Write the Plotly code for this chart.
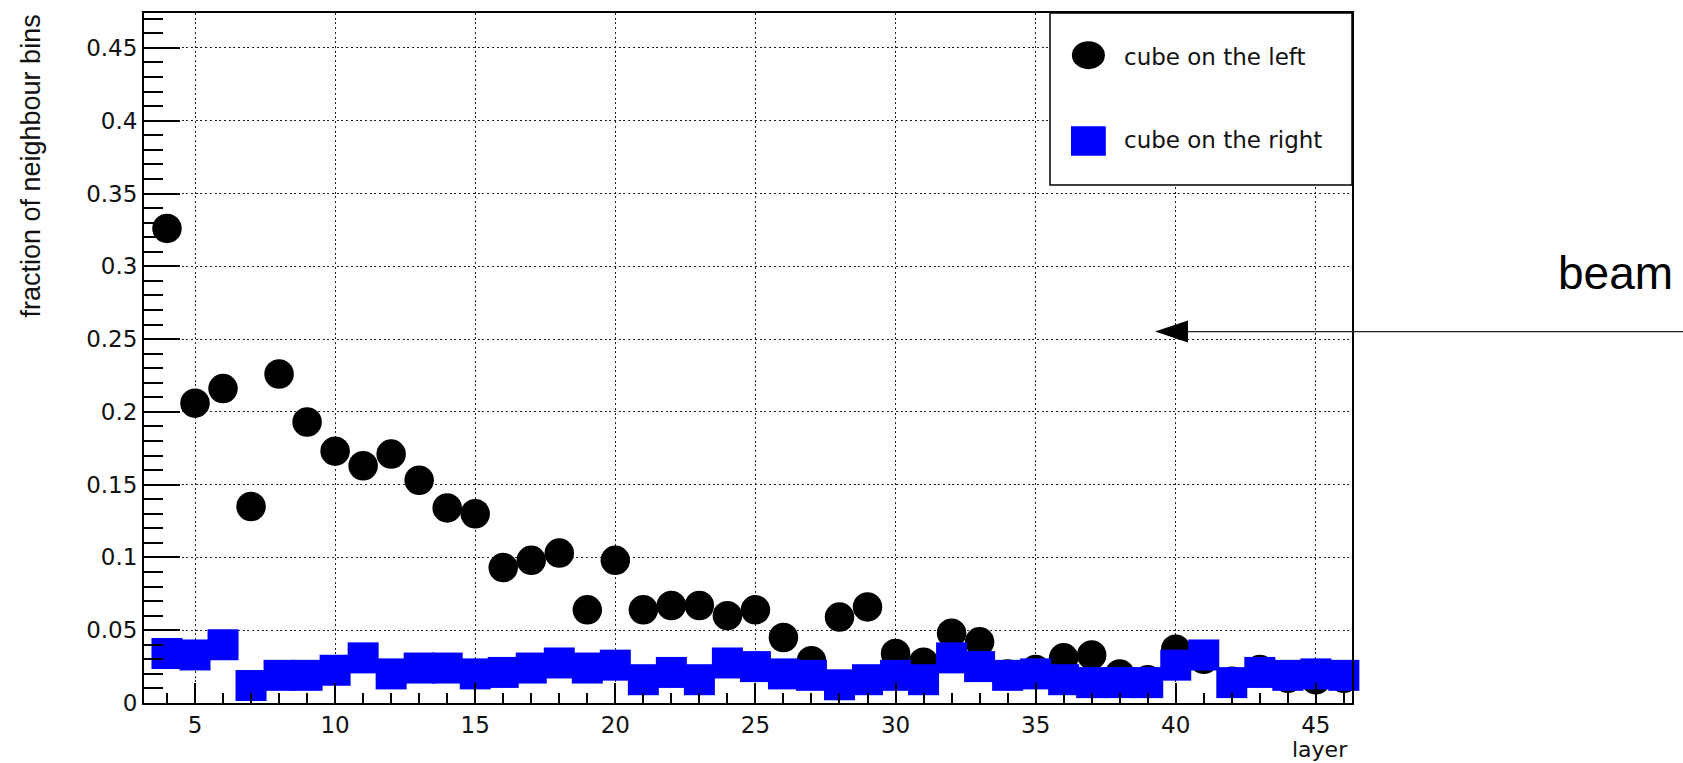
import plotly.graph_objects as go

# layer index and fraction of neighbour bins per cube position
layers = list(range(4, 47))
frac_left = [
    0.326, 0.206, 0.216, 0.135, 0.226, 0.193, 0.173, 0.163, 0.171, 0.153,
    0.134, 0.130, 0.093, 0.098, 0.103, 0.064, 0.098, 0.064, 0.067, 0.067,
    0.060, 0.064, 0.045, 0.029, 0.059, 0.066, 0.034, 0.028, 0.048, 0.042,
    0.020, 0.023, 0.031, 0.033, 0.020, 0.016, 0.037, 0.030, 0.015, 0.023,
    0.017, 0.016, 0.017,
]
frac_right = [
    0.034, 0.033, 0.040, 0.012, 0.019, 0.019, 0.0225, 0.031, 0.020, 0.024,
    0.024, 0.020, 0.021, 0.024, 0.0275, 0.024, 0.026, 0.016, 0.021, 0.016,
    0.0275, 0.025, 0.020, 0.019, 0.0125, 0.016, 0.019, 0.016, 0.031, 0.025,
    0.019, 0.020, 0.016, 0.014, 0.014, 0.014, 0.026, 0.033, 0.014, 0.021,
    0.019, 0.020, 0.019,
]
series_names = ["cube on the left", "cube on the right"]

x_tick_vals = [5, 10, 15, 20, 25, 30, 35, 40, 45]
x_tick_text = ["5", "10", "15", "20", "25", "30", "35", "40", "45"]
y_tick_vals = [0, 0.05, 0.1, 0.15, 0.2, 0.25, 0.3, 0.35, 0.4, 0.45]
y_tick_text = ["0", "0.05", "0.1", "0.15", "0.2", "0.25", "0.3", "0.35", "0.4", "0.45"]

# canvas and frame geometry (pixels)
W, H = 1683, 763
ML, MR, MT, MB = 144, 331, 11, 60
PW = W - ML - MR
PH = H - MT - MB


def px(xpix):
    return (xpix - ML) / PW


def py(ypix):
    return (H - MB - ypix) / PH


TICK_FONT = dict(family="DejaVu Sans", size=23, color="#111111")
GRID_DASH = "2px,2.7px"

fig = go.Figure()
fig.add_trace(go.Scatter(
    x=layers, y=frac_left, mode="markers", name=series_names[0],
    marker=dict(symbol="circle", size=29.5, color="black", line=dict(width=0)),
    cliponaxis=False, showlegend=False,
))
fig.add_trace(go.Scatter(
    x=layers, y=frac_right, mode="markers", name=series_names[1],
    marker=dict(symbol="square", size=31, color="#0000ff", line=dict(width=0)),
    cliponaxis=False, showlegend=False,
))

axis_common = dict(
    ticks="inside", tickwidth=2, tickcolor="black",
    showline=True, mirror=True, linecolor="black", linewidth=2,
    showgrid=True, gridcolor="#222222", gridwidth=1.3, griddash=GRID_DASH,
    zeroline=False, tickfont=TICK_FONT,
)
fig.update_xaxes(
    range=[3.18, 46.29], tickmode="array", tickvals=x_tick_vals, ticktext=x_tick_text,
    ticklen=20,
    minor=dict(dtick=1, tick0=0, ticks="inside", ticklen=10, tickwidth=1.5,
               tickcolor="black", showgrid=False),
    **axis_common,
)
fig.update_yaxes(
    range=[0, 0.474], tickmode="array", tickvals=y_tick_vals, ticktext=y_tick_text,
    ticklen=36,
    minor=dict(dtick=0.01, tick0=0, ticks="inside", ticklen=19, tickwidth=1.5,
               tickcolor="black", showgrid=False),
    **axis_common,
)

shapes = [
    # legend box
    dict(type="rect", xref="paper", yref="paper",
         x0=px(1050), x1=px(1352), y0=py(183.4), y1=py(11),
         line=dict(color="black", width=1.5), fillcolor="white", layer="above"),
    # legend symbols
    dict(type="circle", xref="paper", yref="paper", xsizemode="pixel", ysizemode="pixel",
         xanchor=px(1088.4), yanchor=py(53.3), x0=-16.5, x1=16.5, y0=-14, y1=14,
         fillcolor="black", line=dict(width=0), layer="above"),
    dict(type="rect", xref="paper", yref="paper", xsizemode="pixel", ysizemode="pixel",
         xanchor=px(1088.4), yanchor=py(139.3), x0=-17.4, x1=17.4, y0=-14.8, y1=14.8,
         fillcolor="#0000ff", line=dict(width=0), layer="above"),
    # beam direction arrow
    dict(type="line", xref="paper", yref="paper",
         x0=px(1186), x1=px(1683), y0=py(330.5), y1=py(330.5),
         line=dict(color="#222222", width=1.3), layer="above"),
    dict(type="path", xref="paper", yref="paper",
         path=(f"M {px(1155)},{py(330.5)} L {px(1188)},{py(319.5)} "
               f"L {px(1188)},{py(341.5)} Z"),
         fillcolor="black", line=dict(width=0), layer="above"),
]

annotations = [
    dict(text=series_names[0], xref="paper", yref="paper", x=px(1122), y=py(55.3),
         xanchor="left", yanchor="middle", showarrow=False,
         font=dict(family="DejaVu Sans", size=23, color="#111111")),
    dict(text=series_names[1], xref="paper", yref="paper", x=px(1122), y=py(138.6),
         xanchor="left", yanchor="middle", showarrow=False,
         font=dict(family="DejaVu Sans", size=23, color="#111111")),
    dict(text="beam", xref="paper", yref="paper", x=px(1556), y=py(271.5),
         xanchor="left", yanchor="middle", showarrow=False,
         font=dict(family="Liberation Sans", size=46, color="black")),
    dict(text="layer", xref="paper", yref="paper", x=px(1350), y=py(749.5),
         xanchor="right", yanchor="middle", showarrow=False,
         font=dict(family="DejaVu Sans", size=22, color="#111111")),
    dict(text="fraction of neighbour bins", xref="paper", yref="paper",
         x=px(31), y=py(165), xanchor="center", yanchor="middle", textangle=-90,
         showarrow=False,
         font=dict(family="Liberation Sans", size=27, color="#111111")),
]

fig.update_layout(
    width=W, height=H,
    margin=dict(l=ML, r=MR, t=MT, b=MB, pad=0),
    paper_bgcolor="white", plot_bgcolor="white",
    shapes=shapes, annotations=annotations,
    showlegend=False,
)

fig.write_html("out.html")
